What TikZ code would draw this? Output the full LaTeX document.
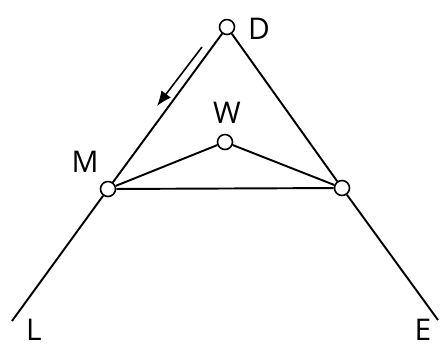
\documentclass[tikz,border=0pt]{standalone}
\usepackage{fontspec}
\setmainfont{Open Sans}
\usetikzlibrary{arrows.meta,positioning}

\begin{document}
\begin{tikzpicture}[x=0.02cm,y=-0.02cm,>={Latex[length=3mm,width=2.4mm]}]
  \tikzstyle{myjoint}=[circle, draw, fill=white, line width=0.9pt,
              minimum size=0.3cm, inner sep=0pt]
  \tikzstyle{mylab}=[font=\fontsize{17}{19}\selectfont, inner sep=0pt]
  \tikzstyle{myline}=[line width=1.1pt]
  \useasboundingbox (0,0) rectangle (444,346);
  % joints
  \node[myjoint] (D) at (227,27) {};
  \node[myjoint] (W) at (225,142) {};
  \node[myjoint] (M) at (108,189) {};
  \node[myjoint] (R) at (342,188) {};
  \coordinate (L) at (12,321);
  \coordinate (E) at (438,320);
  % labels
  \node[mylab] (lD) at (259,29) {D};
  \node[mylab] (lW) at (227,113) {W};
  \node[mylab] (lM) at (85,162) {M};
  \node[mylab] (lL) at (34,330) {L};
  \node[mylab] (lE) at (423,330) {E};
  % bars
  \draw[myline] (D) -- (M);
  \draw[myline] (M) -- (L);
  \draw[myline] (D) -- (R);
  \draw[myline] (R) -- (E);
  \draw[myline] (M) -- (W);
  \draw[myline] (W) -- (R);
  \draw[myline] (M) -- (R);
  % direction arrow
  \coordinate (a1) at (202,47);
  \coordinate (a2) at (157,106);
  \draw[->,line width=0.9pt] (a1) -- (a2);
\end{tikzpicture}
\end{document}
